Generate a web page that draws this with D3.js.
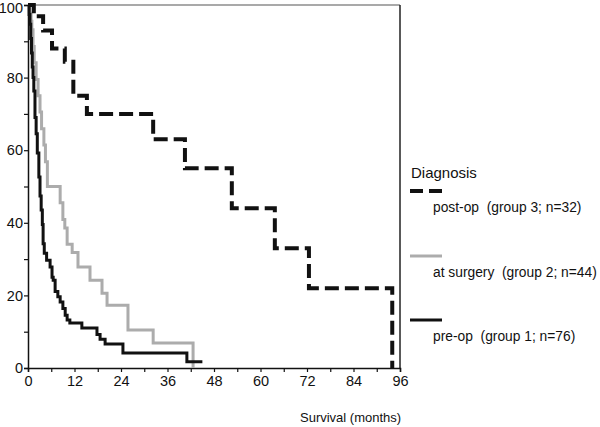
<!DOCTYPE html>
<html>
<head>
<meta charset="utf-8">
<script src="https://cdn.jsdelivr.net/npm/d3@7"></script>
<style>
  body { margin: 0; background: #fff; }
  svg { display: block; font-family: "Liberation Sans", Arial, sans-serif; }
</style>
</head>
<body>
<script>
// Kaplan-Meier steps: [months, % surviving]
const postOp = [[0,100],[1.5,96.9],[3.9,93],[6.2,88],[9.5,84.4],[11.7,75],[15.2,70],
  [32.3,63],[40.5,55],[52.6,44],[63.7,33],[72.5,22],[94,0]];
const atSurgery = [[0,100],[0.5,97.7],[0.8,95.5],[1.0,93.2],[1.3,88.6],[1.6,84.1],[2.1,79.5],
  [2.6,75],[3.1,70.5],[3.5,65.9],[4.1,61.4],[4.5,56.8],[5.0,50],[8.3,45.5],[9.0,40.9],
  [9.5,38.6],[10.1,34.1],[11.4,31.8],[12.9,27.8],[16,24.2],[19.1,20.6],[20.4,17.3],
  [25.8,10.5],[32.3,6.9],[42.6,0]];
const preOp = [[0,100],[0.3,97.4],[0.5,94.7],[0.7,90.8],[0.9,86.8],[1.1,82.9],[1.3,80],
  [1.5,76.3],[1.8,69],[2.1,64.5],[2.4,59.2],[2.8,52.6],[3.1,47.4],[3.4,43.5],[3.7,39.5],
  [3.9,34.2],[4.2,31.6],[4.8,29.7],[5.7,27.8],[6.2,25],[6.5,24.2],[7.0,21.1],[7.7,19.6],
  [8.3,18.2],[9.0,16.4],[9.6,14.5],[10.1,13.2],[10.8,12.4],[13.9,11],[17.8,9.2],
  [18.6,7.9],[19.9,6.6],[24.5,4.1],[41,1.7],[45,1.7]];

const xTicks = [0, 12, 24, 36, 48, 60, 72, 84, 96];
const yTicks = [0, 20, 40, 60, 80, 100];
const legendLabels = ["post-op  (group 3; n=32)", "at surgery  (group 2; n=44)", "pre-op  (group 1; n=76)"];

const width = 600, height = 427;
const x = d3.scaleLinear().domain([0, 96]).range([28, 400]);
const y = d3.scaleLinear().domain([0, 100]).range([368, 5]);

const svg = d3.select("body").append("svg")
  .attr("width", width).attr("height", height);

// frame (top + right)
svg.append("line").attr("x1", x(0)).attr("x2", x(96)).attr("y1", y(100)).attr("y2", y(100))
  .attr("stroke", "#555").attr("stroke-width", 1.2);
svg.append("line").attr("x1", x(96)).attr("x2", x(96)).attr("y1", y(100)).attr("y2", y(0))
  .attr("stroke", "#222").attr("stroke-width", 1.5);

// axes
const xAxis = svg.append("g").attr("transform", `translate(0,${y(0)})`)
  .call(d3.axisBottom(x).tickValues(d3.range(0, 97, 6)).tickSize(4)
    .tickFormat(d => xTicks.includes(d) ? d : ""));
const yAxis = svg.append("g").attr("transform", `translate(${x(0)},0)`)
  .call(d3.axisLeft(y).tickValues(d3.range(0, 101, 10)).tickSize(4)
    .tickFormat(d => yTicks.includes(d) ? d : ""));
[xAxis, yAxis].forEach(g => {
  g.select(".domain").attr("stroke", "#111").attr("stroke-width", 1.5);
  g.selectAll(".tick line").attr("stroke", "#111").attr("stroke-width", 1.2);
  g.selectAll("text").attr("font-size", 14.5).attr("fill", "#111")
    .attr("font-family", "Liberation Sans, Arial, sans-serif");
});
xAxis.selectAll("text").attr("dy", "0.71em").attr("y", 8);
yAxis.selectAll("text").attr("x", -5);
// keep the top label inside the page
yAxis.selectAll(".tick").filter(d => d === 100).select("text").attr("dy", "0.5em");

const line = d3.line().x(d => x(d[0])).y(d => y(d[1])).curve(d3.curveStepAfter);

svg.append("path").datum(atSurgery).attr("d", line)
  .attr("fill", "none").attr("stroke", "#acacac").attr("stroke-width", 3);
svg.append("path").datum(preOp).attr("d", line)
  .attr("fill", "none").attr("stroke", "#111").attr("stroke-width", 3);
svg.append("path").datum(postOp).attr("d", line)
  .attr("fill", "none").attr("stroke", "#111").attr("stroke-width", 4)
  .attr("stroke-dasharray", "14,6");

// axis title
svg.append("text").attr("x", 300).attr("y", 422).attr("font-size", 13).attr("fill", "#111")
  .text("Survival (months)");

// legend
const lg = svg.append("g");
lg.append("text").attr("x", 411).attr("y", 178).attr("font-size", 15).attr("fill", "#111")
  .text("Diagnosis");
const legendStyles = [
  { color: "#111", width: 4, dash: "13,6", y: 191 },
  { color: "#acacac", width: 3, dash: null, y: 256 },
  { color: "#111", width: 3, dash: null, y: 320 }
];
legendStyles.forEach((s, i) => {
  lg.append("line").attr("x1", 410).attr("x2", 442).attr("y1", s.y).attr("y2", s.y)
    .attr("stroke", s.color).attr("stroke-width", s.width)
    .attr("stroke-dasharray", s.dash);
  lg.append("text").attr("x", 433).attr("y", s.y + 21).attr("font-size", 13.8)
    .attr("fill", "#111").style("white-space", "pre").text(legendLabels[i]);
});
</script>
</body>
</html>
